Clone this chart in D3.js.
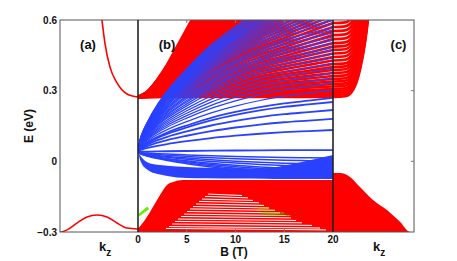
<!DOCTYPE html>
<html>
<head>
<meta charset="utf-8">
<script src="https://cdn.jsdelivr.net/npm/d3@7"></script>
<style>
  body { margin: 0; background: #fff; }
  svg { display: block; }
  text { font-family: "Liberation Sans", Arial, sans-serif; font-weight: bold; fill: #111; }
</style>
</head>
<body>
<svg id="chart" width="457" height="261"></svg>
<script>
/* ── Landau fan: E(k_z) | E(B) | E(k_z) at B = 20 T ── */

// ── axis ticks ──
const eTicks      = [-0.3, 0, 0.3, 0.6];
const eTickLabels = ['\u22120.3', '0', '0.3', '0.6'];
const bTicks      = [0, 5, 10, 15, 20];

// ── panel (a): bulk bands vs k_z (k_z = 0 at the right edge) ──
const condKz  = [0, 0.141, 0.269, 0.359, 0.423, 0.462, 0.49];
const condE   = [0.273, 0.286, 0.333, 0.40, 0.50, 0.60, 0.68];
const valKz   = [0, 0.141, 0.269, 0.397, 0.526, 0.654, 0.782, 0.910, 1.0];
const valE    = [-0.287, -0.283, -0.262, -0.236, -0.228, -0.236, -0.262, -0.291, -0.302];

// ── panel (b): level energies at B = 20 T ──
const redLevels20 = [
  0.273, 0.282, 0.290, 0.299, 0.307, 0.318, 0.328, 0.339, 0.350, 0.362,
  0.375, 0.388, 0.400, 0.413, 0.428, 0.443, 0.458, 0.473, 0.487, 0.502,
  0.519, 0.536, 0.553, 0.570, 0.587, 0.603, 0.619, 0.635, 0.651, 0.667,
  0.683, 0.699, 0.715, 0.731, 0.747, 0.763, 0.779, 0.795, 0.811, 0.827,
  0.843, 0.859, 0.875, 0.891, 0.907, 0.923, 0.939, 0.955, 0.971, 0.987,
  1.003, 1.02, 1.04, 1.06, 1.08, 1.10, 1.12, 1.14, 1.16, 1.18,
  1.20, 1.23, 1.26, 1.29, 1.32, 1.35, 1.38, 1.41, 1.44, 1.47, 1.50, 1.53
];
const redStartE  = 0.273;
// shape of one conduction level vs B (fraction of its rise at 20 T)
const redShapeB  = [0, 1, 2, 3, 4, 5, 6, 8, 10, 12.5, 15, 17.5, 20];
const redShapeF  = [0, 0.02, 0.06, 0.11, 0.17, 0.23, 0.29, 0.40, 0.51, 0.64, 0.76, 0.88, 1.0];

const blueUp20 = [
  0.048, 0.133, 0.180, 0.218, 0.252, 0.269, 0.303, 0.333, 0.354, 0.375,
  0.396, 0.417, 0.439, 0.456, 0.473, 0.485, 0.502, 0.515, 0.528, 0.545,
  0.558, 0.570, 0.587, 0.600, 0.612, 0.624, 0.636, 0.647, 0.658, 0.669,
  0.680, 0.690, 0.700, 0.710, 0.720, 0.730, 0.740, 0.750, 0.760
];
const blueDown20 = [0.014, 0.001, -0.013, -0.024, -0.037, -0.045, -0.054, -0.062];
const blueStartE = 0.040;
const blueShapeB = [0, 0.25, 0.5, 1, 2, 3, 5, 7.5, 10, 12.5, 15, 17.5, 20];
const blueShapeF = [0, 0.08, 0.12, 0.18, 0.28, 0.36, 0.49, 0.63, 0.74, 0.83, 0.90, 0.95, 1];

// dense lower surface band
const bandB      = [0, 0.3, 1, 2, 3, 5, 7, 10, 13, 15, 17.5, 20];
const bandTop    = [0.040, 0.020, -0.005, -0.015, -0.019, -0.024, -0.027, -0.029, -0.030, -0.018, 0.004, 0.027];
const bandBottom = [0.040, -0.003, -0.037, -0.054, -0.062, -0.071, -0.072, -0.073, -0.074, -0.075, -0.075, -0.075];

// valence continuum in (b)
const valBandB   = [0, 0.6, 1.23, 1.8, 2.26, 2.97, 3.59, 4.62, 20];
const valBandTop = [-0.285, -0.255, -0.215, -0.175, -0.143, -0.100, -0.088, -0.079, -0.079];

// gaps between valence levels in (b)
const gapB0 = [7.18, 6.87, 6.56, 6.26, 5.95, 5.64, 5.33, 5.03, 4.72, 4.41, 4.10, 3.79, 3.49, 3.18, 2.87];
const gapE0 = [-0.139, -0.149, -0.160, -0.170, -0.181, -0.192, -0.202, -0.213, -0.224, -0.234, -0.245, -0.255, -0.266, -0.277, -0.285];
const gapB1 = [10.67, 11.28, 11.79, 12.41, 12.92, 13.44, 14.05, 14.56, 15.18, 15.69, 16.21, 16.82, 17.85, 18.67, 19.28];
const gapE1 = [-0.145, -0.155, -0.166, -0.176, -0.187, -0.198, -0.208, -0.219, -0.230, -0.240, -0.251, -0.261, -0.272, -0.283, -0.291];

// green (surface-derived) traces
const greenRows = [5, 6, 7, 8];
const greenB0   = [12.3, 12.0, 12.6, 13.2];
const greenB1   = [13.3, 14.0, 15.0, 15.6];
const greenWedgeB = [0, 0.95, 1.15, 0.15];
const greenWedgeE = [-0.226, -0.192, -0.202, -0.233];

// ── panel (c): B = 20 T levels vs k_z ──
const liftKz = [0, 0.148, 0.247, 0.333, 0.395, 0.432, 0.47];
const liftE  = [0, 0.003, 0.03, 0.115, 0.23, 0.33, 0.46];
const cValKz  = [0, 0.086, 0.21, 0.333, 0.494, 0.667, 0.827, 0.951, 1.0];
const cValTop = [-0.05, -0.05, -0.066, -0.109, -0.164, -0.207, -0.257, -0.30, -0.30];

// ── colours ──
const RED = '#ff0000', BLUE = '#2a42ff', GREEN = '#66ee00';

// ── scales / frame ──
const frameTop = 20, frameBottom = 232, frameLeft = 60, frameRight = 414, divA = 138, divC = 333;
const y  = d3.scaleLinear().domain([-0.3, 0.6]).range([frameBottom, frameTop]);
const xA = d3.scaleLinear().domain([0, 1]).range([divA, frameLeft]);
const xB = d3.scaleLinear().domain([0, 20]).range([divA, divC]);
const xC = d3.scaleLinear().domain([0, 1]).range([divC, frameRight]);

const svg  = d3.select('#chart');
const defs = svg.append('defs');
[['clipA', frameLeft, divA], ['clipB', divA, divC], ['clipC', divC, frameRight]].forEach(([id, x0, x1]) => {
  defs.append('clipPath').attr('id', id)
    .append('rect').attr('x', x0).attr('y', frameTop).attr('width', x1 - x0).attr('height', frameBottom - frameTop);
});

const gA = svg.append('g').attr('clip-path', 'url(#clipA)');
const gB = svg.append('g').attr('clip-path', 'url(#clipB)');
const gC = svg.append('g').attr('clip-path', 'url(#clipC)');

const lineOn = x => d3.line().x(d => x(d[0])).y(d => y(d[1])).curve(d3.curveMonotoneX);
const zip = (xs, ys) => xs.map((v, i) => [v, ys[i]]);

// ── panel (a) ──
gA.append('path').attr('d', lineOn(xA)(zip(condKz, condE)))
  .attr('fill', 'none').attr('stroke', RED).attr('stroke-width', 1.6);
gA.append('path').attr('d', lineOn(xA)(zip(valKz, valE)))
  .attr('fill', 'none').attr('stroke', RED).attr('stroke-width', 1.6);

// ── panel (b) ──
const level = (e0, e20, sb, sf) => sb.map((b, i) => [b, e0 + (e20 - e0) * sf[i]]);

gB.selectAll('.red-lvl')
  .data(redLevels20)
  .enter().append('path')
  .attr('class', 'red-lvl')
  .attr('d', e => lineOn(xB)(level(redStartE, e, redShapeB, redShapeF)))
  .attr('fill', 'none').attr('stroke', RED).attr('stroke-width', 2.6);

gB.append('path')
  .attr('d', d3.area().x(d => xB(d[0])).y0(y(-0.3)).y1(d => y(d[1])).curve(d3.curveMonotoneX)(zip(valBandB, valBandTop)))
  .attr('fill', RED);

gB.selectAll('.gap')
  .data(gapB0.map((b, i) => i))
  .enter().append('line')
  .attr('x1', i => xB(gapB0[i])).attr('y1', i => y(gapE0[i]))
  .attr('x2', i => xB(gapB1[i])).attr('y2', i => y(gapE1[i]))
  .attr('stroke', '#fff').attr('stroke-width', 1);

const gapAt = (r, b) => gapE0[r] + (gapE1[r] - gapE0[r]) * (b - gapB0[r]) / (gapB1[r] - gapB0[r]);
gB.selectAll('.green')
  .data(greenRows)
  .enter().append('line')
  .attr('x1', (r, j) => xB(greenB0[j])).attr('y1', (r, j) => y(gapAt(r, greenB0[j])))
  .attr('x2', (r, j) => xB(greenB1[j])).attr('y2', (r, j) => y(gapAt(r, greenB1[j])))
  .attr('stroke', GREEN).attr('stroke-width', 1.1).attr('opacity', 0.75);

gB.append('path')
  .attr('d', 'M' + greenWedgeB.map((b, i) => [xB(b), y(greenWedgeE[i])].join(',')).join('L') + 'Z')
  .attr('fill', GREEN);

gB.append('path')
  .attr('d', d3.area().x((d, i) => xB(bandB[i])).y0((d, i) => y(bandBottom[i])).y1((d, i) => y(bandTop[i]))
    .curve(d3.curveMonotoneX)(bandB))
  .attr('fill', BLUE);

// low-lying levels are drawn a little heavier, as in the source figure
gB.selectAll('.blue-up')
  .data(blueUp20)
  .enter().append('path')
  .attr('d', e => lineOn(xB)(level(blueStartE, e, blueShapeB, blueShapeF)))
  .attr('fill', 'none').attr('stroke', BLUE)
  .attr('stroke-width', e => e < 0.28 ? 1.8 : 1.25);

gB.selectAll('.blue-down')
  .data(blueDown20)
  .enter().append('path')
  .attr('d', e => lineOn(xB)(level(blueStartE, e, blueShapeB, blueShapeF)))
  .attr('fill', 'none').attr('stroke', BLUE).attr('stroke-width', 1.5);

// ── panel (c) ──
gC.append('path')
  .attr('d', d3.area().x(d => xC(d[0])).y0(y(-0.3)).y1(d => y(d[1])).curve(d3.curveMonotoneX)(zip(cValKz, cValTop)))
  .attr('fill', RED);

gC.selectAll('.c-lvl')
  .data(redLevels20.filter(e => e < 0.6))
  .enter().append('path')
  .attr('d', e => lineOn(xC)(liftKz.map((k, i) => [k, e + liftE[i]])))
  .attr('fill', 'none').attr('stroke', RED).attr('stroke-width', 2.6);

// ── frame, dividers, ticks ──
svg.append('rect')
  .attr('x', frameLeft).attr('y', frameTop).attr('width', frameRight - frameLeft).attr('height', frameBottom - frameTop)
  .attr('fill', 'none').attr('stroke', '#555').attr('stroke-width', 1);

[divA, divC].forEach(x => {
  svg.append('line').attr('x1', x).attr('x2', x).attr('y1', frameTop).attr('y2', frameBottom)
    .attr('stroke', '#222').attr('stroke-width', 1.6);
});

bTicks.slice(1, -1).forEach(b => {
  svg.append('line').attr('x1', xB(b)).attr('x2', xB(b)).attr('y1', frameBottom).attr('y2', frameBottom - 3)
    .attr('stroke', '#777').attr('stroke-width', 1);
  svg.append('line').attr('x1', xB(b)).attr('x2', xB(b)).attr('y1', frameTop).attr('y2', frameTop + 3)
    .attr('stroke', '#777').attr('stroke-width', 1);
});
eTicks.slice(1, -1).forEach(e => {
  svg.append('line').attr('x1', frameRight).attr('x2', frameRight - 3).attr('y1', y(e)).attr('y2', y(e))
    .attr('stroke', '#777').attr('stroke-width', 1);
});

// ── labels ──
eTicks.forEach((e, i) => {
  svg.append('text').attr('x', frameLeft - 3).attr('y', y(e) + 3.5)
    .attr('text-anchor', 'end').attr('font-size', 10).text(eTickLabels[i]);
});
bTicks.forEach(b => {
  svg.append('text').attr('x', xB(b)).attr('y', 243)
    .attr('text-anchor', 'middle').attr('font-size', 10).text(b);
});

svg.append('text').attr('transform', 'translate(33,126) rotate(-90)')
  .attr('text-anchor', 'middle').attr('font-size', 12).text('E (eV)');
svg.append('text').attr('x', 234).attr('y', 256)
  .attr('text-anchor', 'middle').attr('font-size', 12).text('B (T)');

[99, 373].forEach(x => {
  const t = svg.append('text').attr('x', x).attr('y', 251).attr('font-size', 13);
  t.append('tspan').text('k');
  t.append('tspan').attr('dy', 5).attr('font-size', 10).text('z');
});

[['(a)', 88], ['(b)', 167], ['(c)', 398.5]].forEach(([s, x]) => {
  svg.append('text').attr('x', x).attr('y', 49)
    .attr('text-anchor', 'middle').attr('font-size', 13).text(s);
});
</script>
</body>
</html>
